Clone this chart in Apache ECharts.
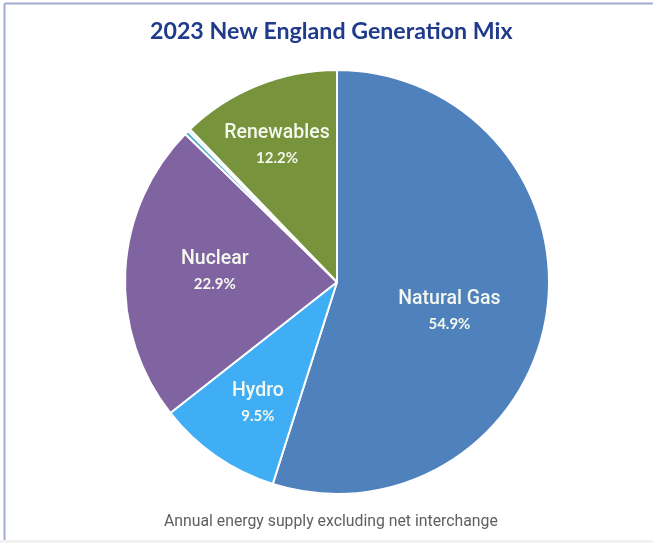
<!DOCTYPE html>
<html>
<head>
<meta charset="utf-8">
<script src="https://cdn.jsdelivr.net/npm/echarts@6/dist/echarts.min.js"></script>
<style>
  html, body { margin: 0; padding: 0; background: #ffffff; }
  #chart { width: 653px; height: 543px; }
</style>
</head>
<body>
<div id="chart"></div>
<script>
// 2023 generation mix, share of annual energy (%)
const sources = ['Natural Gas', 'Hydro', 'Nuclear', 'Oil', 'Coal', 'Renewables'];
const shares = [54.9, 9.5, 22.9, 0.3, 0.2, 12.2];
const colors = ['#4f81bd', '#40aef5', '#8064a2', '#4bacc6', '#b7dde8', '#77933c'];
const labelled = [true, true, true, false, false, true];
// label placement per slice: distance out (fraction of radius) and a small turn (degrees, clockwise)
const labelReach = [0.545, 0.67, 0.58, 0.5, 0.5, 0.715];
const labelTurn = [5.2, -1.3, 2.6, 0, 0, -1.6];

const titleText = '2023 New England Generation Mix';
const noteText = 'Annual energy supply excluding net interchange';

const W = 653, H = 543;
const CX = 337, CY = 282, R = 212;

const chart = echarts.init(document.getElementById('chart'), null, { renderer: 'canvas' });

const data = sources.map((name, i) => ({
  name: name,
  value: shares[i],
  itemStyle: { color: colors[i] },
  label: { show: labelled[i] }
}));

chart.setOption({
  animation: false,
  backgroundColor: '#ffffff',
  title: [{
    text: titleText,
    left: 145,
    top: 15,
    textStyle: { fontFamily: 'Lato', fontWeight: 'bold', fontSize: 23.2, color: '#203b8c' }
  }, {
    text: noteText,
    left: 159,
    top: 509,
    textStyle: { fontFamily: 'Roboto', fontWeight: 'normal', fontSize: 15.8, color: '#5f5f5f' }
  }],
  graphic: [
    { type: 'line', shape: { x1: 4.5, y1: 3.5, x2: W, y2: 3.5 }, style: { stroke: '#a3acd0', lineWidth: 2 } },
    { type: 'line', shape: { x1: 4.5, y1: 3.5, x2: 4.5, y2: H }, style: { stroke: '#a3acd0', lineWidth: 2 } },
    { type: 'rect', shape: { x: 0, y: 540, width: W, height: 3 }, style: { fill: '#f2f2f2' } }
  ],
  series: [{
    type: 'pie',
    center: [CX, CY],
    radius: R,
    startAngle: 90,
    clockwise: true,
    avoidLabelOverlap: false,
    data: data,
    itemStyle: { borderColor: '#ffffff', borderWidth: 2 },
    label: {
      position: 'inside',
      formatter: function (p) { return '{n|' + p.name + '}\n{p|' + p.value.toFixed(1) + '%}'; },
      rich: {
        n: { fontFamily: 'Roboto', fontWeight: 500, fontSize: 19.5, color: '#f4f8ee', lineHeight: 25 },
        p: { fontFamily: 'Lato', fontWeight: 'bold', fontSize: 15, color: '#f4f8ee', lineHeight: 25 }
      }
    },
    labelLine: { show: false },
    labelLayout: function (params) {
      const i = params.dataIndex;
      const lr = params.labelRect;
      const lx = lr.x + lr.width / 2, ly = lr.y + lr.height / 2;
      const ang = Math.atan2(ly - CY, lx - CX) + labelTurn[i] * Math.PI / 180;
      const tx = CX + Math.cos(ang) * R * labelReach[i];
      const ty = CY + Math.sin(ang) * R * labelReach[i] + 2;
      return { dx: tx - lx, dy: ty - ly };
    },
    emphasis: { disabled: true }
  }]
});
</script>
</body>
</html>
